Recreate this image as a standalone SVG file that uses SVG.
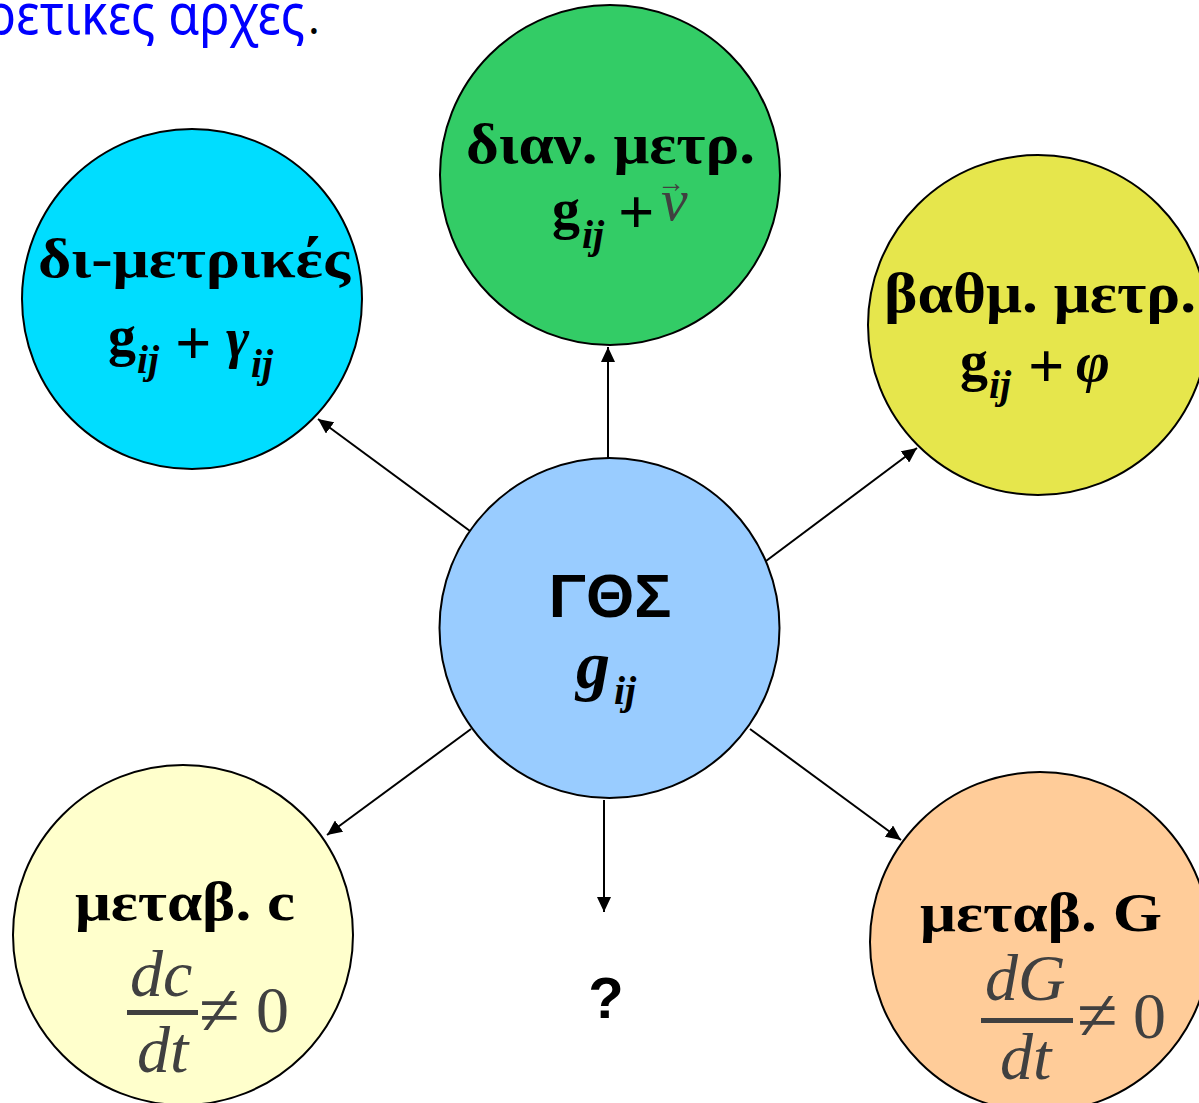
<svg xmlns="http://www.w3.org/2000/svg" width="1199" height="1103" viewBox="0 0 1199 1103">
<style>
.node{stroke:#000;stroke-width:2}
.t{font-family:"Liberation Serif","Times New Roman",serif;font-weight:bold;fill:#000}
.p{font-family:"Liberation Serif","Times New Roman",serif;font-weight:bold;fill:#000}
.m{font-family:"Liberation Serif","Times New Roman",serif;font-style:italic;fill:#404040}
.mu{font-family:"Liberation Serif","Times New Roman",serif;font-style:normal;fill:#404040}
.bi{font-family:"Liberation Serif","Times New Roman",serif;font-weight:bold;font-style:italic;fill:#000}
.s{font-family:"Liberation Sans",Arial,sans-serif;font-weight:bold;fill:#000}
.conn{stroke:#000;stroke-width:2;fill:none;marker-end:url(#ah)}
</style>
<defs>
<marker id="ah" viewBox="0 0 15 14" refX="15" refY="7" markerWidth="15" markerHeight="14" markerUnits="userSpaceOnUse" orient="auto">
<path d="M0,0 L15,7 L0,14 Z" fill="#000"/>
</marker>
</defs>
<rect width="1199" height="1103" fill="#fff"/>
<text x="-14" y="34" font-family="'Noto Sans','DejaVu Sans',sans-serif" font-size="56" fill="#0000ff" textLength="319" lengthAdjust="spacingAndGlyphs">ρετικες αρχες</text>
<text x="308" y="34" font-family="'Noto Sans','DejaVu Sans',sans-serif" font-size="44" fill="#000">.</text>

<g id="connectors">
<line class="conn" x1="608" y1="460" x2="608" y2="347"/>
<line class="conn" x1="470" y1="531" x2="318" y2="419"/>
<line class="conn" x1="766" y1="561" x2="917" y2="448"/>
<line class="conn" x1="471" y1="729" x2="327" y2="835"/>
<line class="conn" x1="750" y1="729" x2="901" y2="840"/>
<line class="conn" x1="604" y1="800" x2="604" y2="912"/>
</g>

<g id="node-center">
<circle class="node" cx="609.5" cy="628" r="170" fill="#99ccff"/>
<text class="s" x="610" y="617" font-size="62" text-anchor="middle">ΓΘΣ</text>
<text class="bi" x="576" y="688" font-size="68">g</text>
<text class="bi" x="614" y="704" font-size="40">ij</text>
</g>

<g id="node-green">
<circle class="node" cx="610" cy="175" r="170" fill="#33cc66"/>
<text class="t" x="466" y="163" font-size="58" textLength="289" lengthAdjust="spacingAndGlyphs">διαν. μετρ.</text>
<text class="t" x="552" y="228" font-size="56">g</text>
<text class="bi" x="582" y="248" font-size="40">ij</text>
<text class="p" x="618" y="233" font-size="64">+</text>
<text class="m" x="661" y="220" font-size="60">v</text>
<text class="mu" x="657" y="192" font-size="28">→</text>
</g>

<g id="node-cyan">
<circle class="node" cx="192" cy="299" r="170" fill="#00ddff"/>
<text class="t" x="38" y="277" font-size="54" textLength="312" lengthAdjust="spacingAndGlyphs">δι-μετρικές</text>
<text class="t" x="108" y="355" font-size="56">g</text>
<text class="bi" x="137" y="373" font-size="40">ij</text>
<text class="p" x="175" y="364" font-size="64">+</text>
<text class="bi" x="226" y="357" font-size="56">γ</text>
<text class="bi" x="251" y="377" font-size="40">ij</text>
</g>

<g id="node-yellow">
<circle class="node" cx="1038" cy="325" r="170" fill="#e6e64c"/>
<text class="t" x="884" y="312" font-size="58" textLength="312" lengthAdjust="spacingAndGlyphs">βαθμ. μετρ.</text>
<text class="t" x="960" y="380" font-size="56">g</text>
<text class="bi" x="989" y="398" font-size="40">ij</text>
<text class="p" x="1028" y="387" font-size="64">+</text>
<text class="bi" x="1076" y="381" font-size="58">φ</text>
</g>

<g id="node-lightyellow">
<circle class="node" cx="183" cy="935" r="170" fill="#ffffcc"/>
<text class="t" x="75" y="920" font-size="54" textLength="220" lengthAdjust="spacingAndGlyphs">μεταβ. c</text>
<text class="m" x="130" y="996" font-size="66">dc</text>
<rect x="127" y="1010" width="71" height="5" fill="#404040"/>
<text class="m" x="137" y="1072" font-size="66">dt</text>
<text class="mu" x="199" y="1035" font-size="74">≠</text>
<text class="mu" x="256" y="1032" font-size="66">0</text>
</g>

<g id="node-orange">
<circle class="node" cx="1040" cy="942" r="170" fill="#ffcc99"/>
<text class="t" x="920" y="931" font-size="54" textLength="242" lengthAdjust="spacingAndGlyphs">μεταβ. G</text>
<text class="m" x="985" y="1000" font-size="66">dG</text>
<rect x="981" y="1018" width="92" height="5" fill="#404040"/>
<text class="m" x="1000" y="1079" font-size="66">dt</text>
<text class="mu" x="1077" y="1040" font-size="74">≠</text>
<text class="mu" x="1133" y="1038" font-size="66">0</text>
</g>

<g id="node-question">
<text class="s" x="606" y="1018" font-size="58" text-anchor="middle">?</text>
</g>
</svg>
